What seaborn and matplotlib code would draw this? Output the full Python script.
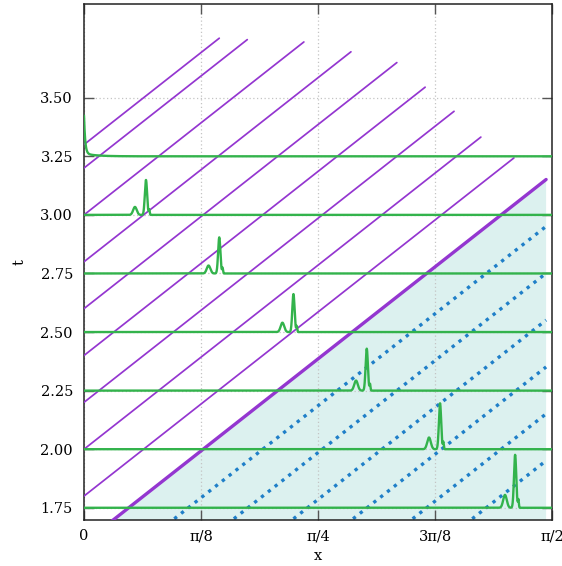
import numpy as np
import pandas as pd
import matplotlib
matplotlib.use("Agg")
import matplotlib.pyplot as plt
import seaborn as sns

# characteristic lines t = x + c (thin purple), with the x where each stops
char_c = [1.8, 2.0, 2.2, 2.4, 2.6, 2.8, 3.0, 3.2, 3.3]
char_xend = [1.443, 1.332, 1.242, 1.145, 1.050, 0.896, 0.738, 0.548, 0.454]

# bounding characteristic (thick purple) and the region beneath it
front_c = 1.6
front_xend = 1.551

# dotted characteristics inside the shaded region
inner_c = [1.4, 1.2, 1.0, 0.8, 0.6, 0.4]
inner_xend = 1.551

# solution snapshots: baseline time, main spike and its precursor bump
snap_t = [1.75, 2.00, 2.25, 2.50, 2.75, 3.00]
spike_x = [1.447, 1.195, 0.949, 0.703, 0.454, 0.208]
spike_h = [0.226, 0.196, 0.179, 0.162, 0.154, 0.149]
bump_x = [1.413, 1.158, 0.913, 0.666, 0.418, 0.171]
bump_h = [0.055, 0.050, 0.043, 0.040, 0.034, 0.034]
# last snapshot: pulse sitting on the left boundary
edge_t = 3.25
edge_h = 0.162

xtick_vals = [0, np.pi / 8, np.pi / 4, 3 * np.pi / 8, np.pi / 2]
xtick_labels = ["0", "π/8", "π/4", "3π/8", "π/2"]
ytick_vals = [1.75, 2.00, 2.25, 2.50, 2.75, 3.00, 3.25, 3.50]

PURPLE = "#9436d0"
GREEN = "#33b34c"
BLUE = "#1f7fc8"
SHADE = "#dcf1ef"

sns.set_theme(style="ticks")
plt.rcParams["font.family"] = ["DejaVu Serif"]
plt.rcParams["font.size"] = 10.5

fig = plt.figure(figsize=(5.62, 5.66), dpi=100)
ax = fig.add_axes([84 / 562, 1 - 519.5 / 566, 468 / 562, 515.5 / 566])

# shaded region under the bounding characteristic
xs_fill = np.linspace(0, front_xend, 200)
ax.fill_between(xs_fill, 0, xs_fill + front_c, color=SHADE, lw=0, zorder=0.1)

# dotted characteristics
rows = []
for c in inner_c:
    for a in (0.0, inner_xend):
        rows.append({"c": c, "x": a, "t": a + c})
df_inner = pd.DataFrame(rows)
sns.lineplot(data=df_inner, x="x", y="t", units="c", estimator=None, sort=False,
             color=BLUE, lw=2.4, linestyle=(0, (1, 1.6)), ax=ax, zorder=2)

# thin characteristics
rows = []
for c, xe in zip(char_c, char_xend):
    for a in (0.0, xe):
        rows.append({"c": c, "x": a, "t": a + c})
df_char = pd.DataFrame(rows)
sns.lineplot(data=df_char, x="x", y="t", units="c", estimator=None, sort=False,
             color=PURPLE, lw=1.25, ax=ax, zorder=3)

# thick bounding characteristic
sns.lineplot(x=[0.0, front_xend], y=[front_c, front_xend + front_c], estimator=None,
             sort=False, color=PURPLE, lw=2.4, ax=ax, zorder=3)

# solution profiles drawn on their time baselines
xg = np.linspace(0, np.pi / 2, 6000)
frames = []
for t0, sx, sh, bx, bh in zip(snap_t, spike_x, spike_h, bump_x, bump_h):
    u = (bh * np.exp(-0.5 * ((xg - bx) / 0.006) ** 2)
         + sh * np.exp(-0.5 * ((xg - sx) / 0.0038) ** 2)
         + 0.15 * sh * np.exp(-0.5 * ((xg - sx - 0.011) / 0.0015) ** 2))
    frames.append(pd.DataFrame({"snap": t0, "x": xg, "t": t0 + u}))
u_edge = edge_h * np.exp(-xg / 0.004) + 0.012 * np.exp(-xg / 0.04)
frames.append(pd.DataFrame({"snap": edge_t, "x": xg, "t": edge_t + u_edge}))
df_prof = pd.concat(frames, ignore_index=True)
sns.lineplot(data=df_prof, x="x", y="t", units="snap", estimator=None, sort=False,
             color=GREEN, lw=1.7, ax=ax, zorder=4)

ax.set_xlim(0, np.pi / 2)
ax.set_ylim(1.7, 3.9)
ax.set_xticks(xtick_vals)
ax.set_xticklabels(xtick_labels)
ax.set_yticks(ytick_vals)
ax.set_yticklabels([f"{v:.2f}" for v in ytick_vals])

ax.set_axisbelow(True)
ax.grid(True, color="#c4c4c4", lw=0.9, linestyle=(0, (1, 2)))

ax.tick_params(direction="in", top=True, right=True, length=7, width=1.0,
               color="#555555", labelsize=10.5, labelcolor="#000000")
ax.tick_params(axis="x", pad=7)
ax.tick_params(axis="y", pad=8)
for sp in ax.spines.values():
    sp.set_color("#222222")
    sp.set_linewidth(1.1)

ax.set_xlabel("x", fontsize=10.5, labelpad=4, color="#000000")
ax.set_ylabel("t", fontsize=10.5, labelpad=10, color="#000000")

fig.savefig("out.png", dpi=100)
